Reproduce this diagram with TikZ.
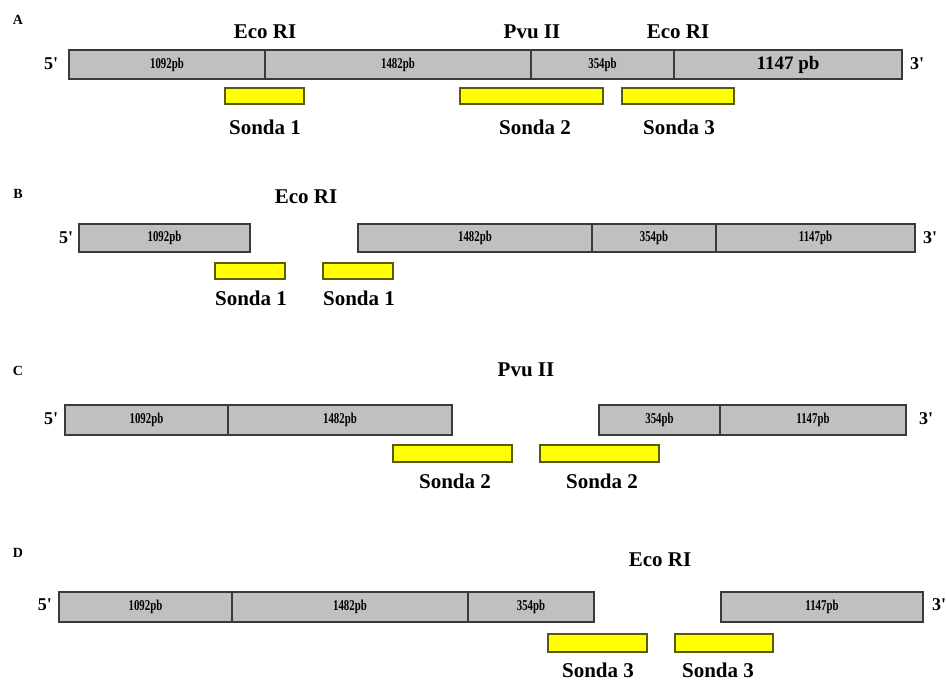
\documentclass[tikz,border=0pt]{standalone}
\usepackage{fontspec}
\setmainfont{Liberation Serif}
\definecolor{bargray}{HTML}{C0C0C0}
\definecolor{barline}{HTML}{3A3A3A}
\definecolor{probey}{HTML}{FFFF00}
\definecolor{probeline}{HTML}{5A5A10}
\tikzset{
  seg/.style={draw=barline, line width=1.4pt, fill=bargray, inner sep=0pt, rectangle, font=\bfseries\fontsize{15}{15}\selectfont},
  probe/.style={draw=probeline, line width=1.4pt, fill=probey, inner sep=0pt, rectangle},
  enz/.style={font=\bfseries\fontsize{21}{21}\selectfont, inner sep=0pt},
  plab/.style={font=\bfseries\fontsize{21}{21}\selectfont, inner sep=0pt},
  endlab/.style={font=\bfseries\fontsize{18}{18}\selectfont, inner sep=0pt},
  panel/.style={font=\bfseries\fontsize{14}{14}\selectfont, inner sep=0pt},
}
\newcommand{\segbox}[7][seg]{% style, name, x1, x2, y1, y2, label
  \pgfmathsetmacro{\cxx}{(#3+#4)/2}\pgfmathsetmacro{\cyy}{(#5+#6)/2}
  \pgfmathsetmacro{\wdd}{#4-#3}\pgfmathsetmacro{\htt}{#6-#5}
  \node[#1, minimum width=\wdd pt, minimum height=\htt pt] (#2) at (\cxx,\cyy) {#7};}
\newcommand{\sm}[1]{\scalebox{0.72}[1]{#1}}
\newcommand{\pr}{\textquotesingle}
\begin{document}
\begin{tikzpicture}[x=1pt,y=-1pt]
\useasboundingbox (0,0) rectangle (946,682);
% ---------- A ----------
\node[panel] (pA) at (18,20) {A};
\segbox{a1}{69}{265}{50}{79}{\sm{1092pb}}
\segbox{a2}{265}{531}{50}{79}{\sm{1482pb}}
\segbox{a3}{531}{674}{50}{79}{\sm{354pb}}
\segbox{a4}{674}{902}{50}{79}{\fontsize{19}{19}\selectfont 1147 pb}
\node[endlab] (a5p) at (51,64) {5\pr};
\node[endlab] (a3p) at (917,64) {3\pr};
\node[enz] (aE1) at (265,32) {Eco RI};
\node[enz] (aP) at (532,32) {Pvu II};
\node[enz] (aE2) at (678,32) {Eco RI};
\segbox[probe]{as1}{225}{304}{88}{104}{}
\segbox[probe]{as2}{460}{603}{88}{104}{}
\segbox[probe]{as3}{622}{734}{88}{104}{}
\node[plab] (asl1) at (265,127) {Sonda 1};
\node[plab] (asl2) at (535,127) {Sonda 2};
\node[plab] (asl3) at (679,127) {Sonda 3};
% ---------- B ----------
\node[panel] (pB) at (18,194) {B};
\node[enz] (bE) at (306,197) {Eco RI};
\segbox{b1}{79}{250}{224}{252}{\sm{1092pb}}
\segbox{b2}{358}{592}{224}{252}{\sm{1482pb}}
\segbox{b3}{592}{716}{224}{252}{\sm{354pb}}
\segbox{b4}{716}{915}{224}{252}{\sm{1147pb}}
\node[endlab] (b5p) at (66,238) {5\pr};
\node[endlab] (b3p) at (930,238) {3\pr};
\segbox[probe]{bs1}{215}{285}{263}{279}{}
\segbox[probe]{bs2}{323}{393}{263}{279}{}
\node[plab] (bsl1) at (251,298) {Sonda 1};
\node[plab] (bsl2) at (359,298) {Sonda 1};
% ---------- C ----------
\node[panel] (pC) at (18,371) {C};
\node[enz] (cP) at (526,370) {Pvu II};
\segbox{c1}{65}{228}{405}{435}{\sm{1092pb}}
\segbox{c2}{228}{452}{405}{435}{\sm{1482pb}}
\segbox{c3}{599}{720}{405}{435}{\sm{354pb}}
\segbox{c4}{720}{906}{405}{435}{\sm{1147pb}}
\node[endlab] (c5p) at (51,419) {5\pr};
\node[endlab] (c3p) at (926,419) {3\pr};
\segbox[probe]{cs1}{393}{512}{445}{462}{}
\segbox[probe]{cs2}{540}{659}{445}{462}{}
\node[plab] (csl1) at (455,481) {Sonda 2};
\node[plab] (csl2) at (602,481) {Sonda 2};
% ---------- D ----------
\node[panel] (pD) at (18,553) {D};
\node[enz] (dE) at (660,560) {Eco RI};
\segbox{d1}{59}{232}{592}{622}{\sm{1092pb}}
\segbox{d2}{232}{468}{592}{622}{\sm{1482pb}}
\segbox{d3}{468}{594}{592}{622}{\sm{354pb}}
\segbox{d4}{721}{923}{592}{622}{\sm{1147pb}}
\node[endlab] (d5p) at (45,605) {5\pr};
\node[endlab] (d3p) at (939,605) {3\pr};
\segbox[probe]{ds1}{548}{647}{634}{652}{}
\segbox[probe]{ds2}{675}{773}{634}{652}{}
\node[plab] (dsl1) at (598,670) {Sonda 3};
\node[plab] (dsl2) at (718,670) {Sonda 3};
\end{tikzpicture}
\end{document}
